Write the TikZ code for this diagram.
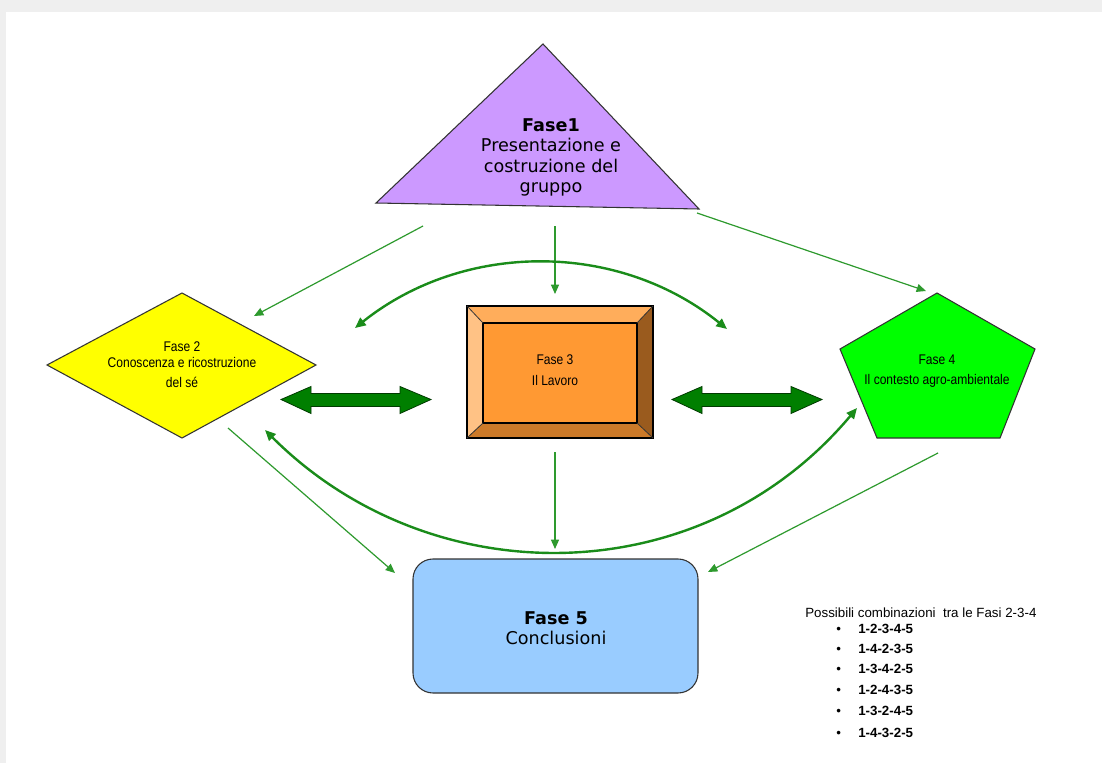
\documentclass[tikz,border=0pt]{standalone}
\usepackage{fontspec}
\setmainfont{DejaVu Sans}
\newfontfamily\narrowfont[FakeStretch=0.86]{Liberation Sans}
\newfontfamily\arialfont{Liberation Sans}
\usetikzlibrary{arrows.meta}
\definecolor{triFill}{HTML}{CC99FF}
\definecolor{diaFill}{HTML}{FFFF00}
\definecolor{penFill}{HTML}{00FF00}
\definecolor{boxFill}{HTML}{99CCFF}
\definecolor{orMid}{HTML}{FF9933}
\definecolor{orTop}{HTML}{FFAD5B}
\definecolor{orLeft}{HTML}{FFC285}
\definecolor{orRight}{HTML}{9A5B1E}
\definecolor{orBot}{HTML}{CC7A29}
\definecolor{thinG}{HTML}{2E9A2E}
\definecolor{thickG}{HTML}{1A8C1A}
\definecolor{blockG}{HTML}{007F00}
\definecolor{blockEdge}{HTML}{003A00}
\definecolor{edgeC}{HTML}{333333}
\definecolor{frameG}{HTML}{EFEFEF}
\tikzset{
  shapeline/.style={draw=edgeC, line width=0.8pt, line join=miter},
  thinarrow/.style={draw=thinG, line width=0.9pt, -{Triangle[length=7pt,width=6pt]}},
  thickarrow/.style={draw=thickG, line width=1.8pt, {Triangle[length=8pt,width=7pt]}-{Triangle[length=8pt,width=7pt]}},
  bigtext/.style={inner sep=0pt, align=center, font=\fontsize{13.2}{15.4}\selectfont},
  smalltext/.style={inner sep=0pt, align=center, font=\narrowfont\fontsize{10.5}{15.75}\selectfont},
  listtext/.style={inner sep=0pt, anchor=base west, font=\arialfont\fontsize{10}{12}\selectfont},
  dblarrow/.pic={
    \draw[fill=blockG, draw=blockEdge, line width=0.6pt, line join=miter]
      (0,0) -- (30,-13) -- (30,-6) -- (119,-6) -- (119,-13) -- (150,0)
      -- (119,14) -- (119,7) -- (30,7) -- (30,14) -- cycle;
  }
}
\begin{document}
\begin{tikzpicture}[x=0.75pt,y=-0.75pt]
\useasboundingbox (0,0) rectangle (1102,763);
\fill[frameG] (0,0) rectangle (1102,763);
\fill[white] (6,12) rectangle (1102,763);

% Fase 1 triangle
\draw[shapeline, fill=triFill] (543,44) -- (699,209) -- (376,203) -- cycle;
\node[bigtext] (f1) at (551,157.5) {\textbf{Fase1}\\Presentazione e\\costruzione del\\gruppo};

% Fase 2 diamond
\draw[shapeline, fill=diaFill] (47,365) -- (182,293) -- (316,365) -- (182,438) -- cycle;
\node[smalltext, font=\narrowfont\fontsize{10.5}{12}\selectfont] (f2) at (182,365) {Fase 2\\Conoscenza e ricostruzione\\[3pt]del sé};

% Fase 3 bevel box
\fill[orMid] (483,323) rectangle (637,423);
\fill[orTop] (467,306) -- (653,306) -- (637,323) -- (483,323) -- cycle;
\fill[orLeft] (467,306) -- (483,323) -- (483,423) -- (467,438) -- cycle;
\fill[orRight] (653,306) -- (653,438) -- (637,423) -- (637,323) -- cycle;
\fill[orBot] (467,438) -- (483,423) -- (637,423) -- (653,438) -- cycle;
\draw[draw=black, line width=0.9pt] (467,306) rectangle (653,438);
\draw[draw=black, line width=0.9pt] (483,323) rectangle (637,423);
\draw[draw=black!80, line width=0.6pt] (467,306) -- (483,323) (653,306) -- (637,323)
  (467,438) -- (483,423) (653,438) -- (637,423);
\node[smalltext] (f3) at (555,370.5) {Fase 3\\Il Lavoro};

% Fase 4 pentagon
\draw[shapeline, fill=penFill] (937,293) -- (1035,349) -- (1000,438) -- (877,438) -- (840,349) -- cycle;
\node[smalltext, font=\narrowfont\fontsize{10.5}{15}\selectfont] (f4) at (937,371) {Fase 4\\Il contesto agro-ambientale};

% Fase 5 rounded box
\draw[shapeline, fill=boxFill, rounded corners=15pt] (413,559) rectangle (698,693);
\node[bigtext, font=\fontsize{13.2}{15}\selectfont] (f5) at (556,628) {\textbf{Fase 5}\\Conclusioni};

% block double arrows
\pic (dl) at (281,399.5) {dblarrow};
\pic (dr) at (672,399.5) {dblarrow};

% connector end points
\coordinate (a1s) at (423,226); \coordinate (a1e) at (254,316);
\coordinate (a2s) at (555,226); \coordinate (a2e) at (555,294);
\coordinate (a3s) at (697,213); \coordinate (a3e) at (926,291);
\coordinate (a4s) at (228,428); \coordinate (a4e) at (395,573);
\coordinate (a5s) at (555,452); \coordinate (a5e) at (555,549);
\coordinate (a6s) at (938,453); \coordinate (a6e) at (708,572);
\coordinate (ta1) at (355,328); \coordinate (ta2) at (727,329);
\coordinate (ba1) at (265,430); \coordinate (ba2) at (857,408);

\draw[thinarrow] (a1s) -- (a1e);
\draw[thinarrow] (a2s) -- (a2e);
\draw[thinarrow] (a3s) -- (a3e);
\draw[thinarrow] (a4s) -- (a4e);
\draw[thinarrow] (a5s) -- (a5e);
\draw[thinarrow] (a6s) -- (a6e);

\draw[thickarrow] (ta1) .. controls (464,241) and (618,241) .. (ta2);
\draw[thickarrow] (ba1) .. controls (430,595) and (700,595) .. (ba2);

% combinations list
\node[listtext] (hdr) at (805,617) {Possibili combinazioni\ \ tra le Fasi 2-3-4};
\foreach \lbl/\yy [count=\i] in {1-2-3-4-5/633, 1-4-2-3-5/653, 1-3-4-2-5/673, 1-2-4-3-5/694, 1-3-2-4-5/715, 1-4-3-2-5/737}{
  \node[listtext] (it\i) at (858,\yy) {\llap{•\hspace*{13pt}}\textbf{\lbl}};
}
\end{tikzpicture}
\end{document}
